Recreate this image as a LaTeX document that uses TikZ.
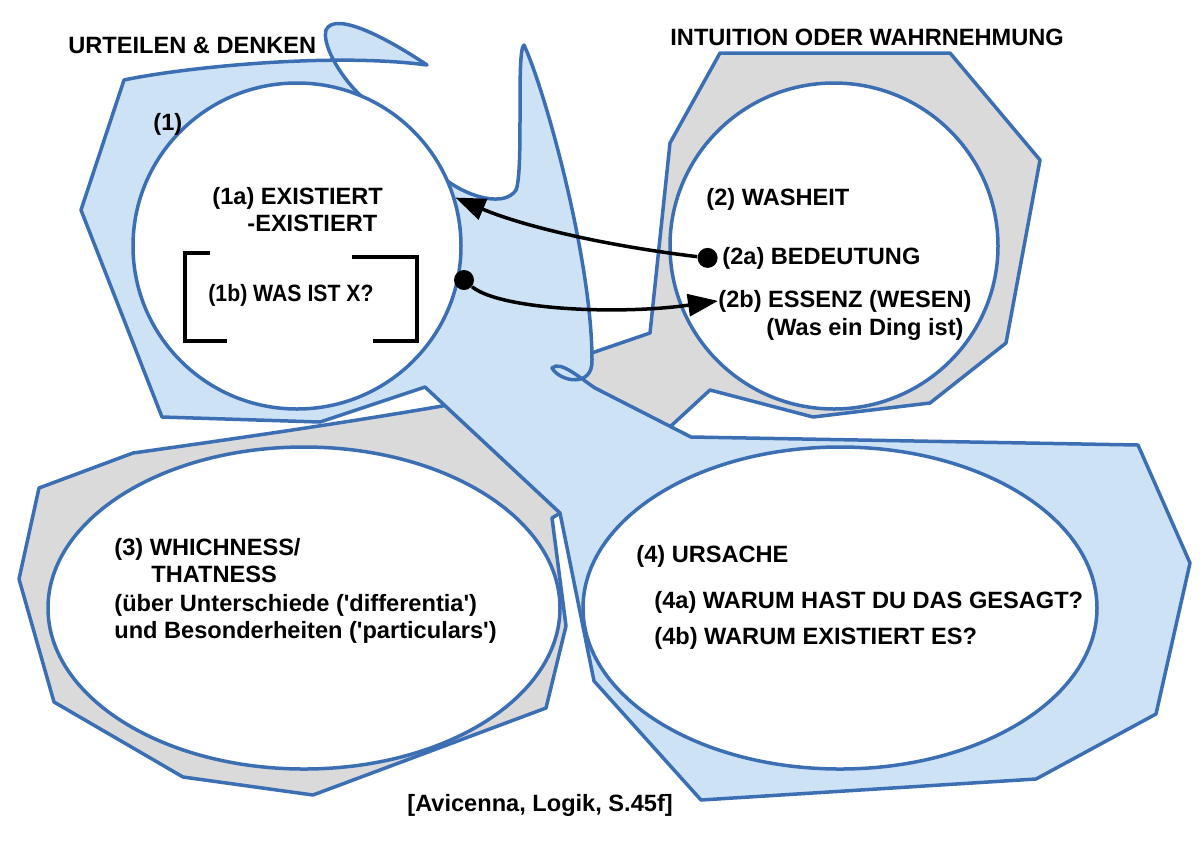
\documentclass[tikz,border=0pt]{standalone}
\usepackage{fontspec}
\setmainfont{Liberation Sans}
\usepackage{xcolor}
\usepackage{graphicx}
\usepackage{tikz}
\usetikzlibrary{
    shapes.geometric,
    positioning,
    arrows.meta
}
\definecolor{blobblue}{RGB}{205,227,245}
\definecolor{lineblue}{RGB}{60,110,180}
\definecolor{blobgrey}{RGB}{218,218,218}
\tikzset{
  blob/.style = {
      draw=lineblue,
      line width=1.75pt,
      line join=round
  },
  circ/.style = {
      ellipse,
      draw=lineblue,
      line width=1.75pt,
      fill=white,
      inner sep=0pt
  },
  txt/.style = {
      anchor=base west,
      inner sep=0pt,
      font=\fontsize{11.8}{14}\selectfont\bfseries
  },
  dot/.style = {
      circle,
      fill=black,
      minimum size=10pt,
      inner sep=0pt
  },
  link/.style = {
      line width=1.75pt,
      -{Triangle[length=15pt, width=11pt]}
  },
  bracket/.style = {
      line width=2pt
  }
}

\begin{document}
\begin{tikzpicture}[x=0.5pt, y=-0.5pt]
        \useasboundingbox (0,0) rectangle (1200,848);
        % Blobs
        \path[blob, fill=blobgrey] (670,143) -- (720,53) -- (950,53) -- (1040,160)
            -- (1006,343) -- (930,403) -- (813,417) -- (710,390) -- (672,425)
            -- (640,445) -- (580,395) -- (580,357) -- (650,333) -- cycle;
        \path[blob, fill=blobgrey] (39,488) -- (133,453)
            .. controls (240,438) and (350,422) .. (448,405) -- (565,510)
            -- (552,518) -- (566,626) -- (546,708) -- (313,795) -- (183,777)
            -- (54,702) -- (19,579) -- cycle;
        \path[blob, fill=blobblue] (124,80)
            .. controls (180,68) and (330,52) .. (427,65)
            .. controls (390,40) and (335,10) .. (326,30)
            .. controls (322,45) and (340,75) .. (357,92)
            -- (446,180)
            .. controls (470,198) and (505,207) .. (516,190)
            .. controls (524,170) and (516,50) .. (524,45)
            .. controls (545,90) and (592,260) .. (592,360)
            .. controls (593,388) and (560,382) .. (552,368)
            .. controls (560,360) and (580,378) .. (595,388)
            -- (691,437) -- (1138,445) -- (1190,563) -- (1156,714) -- (1036,779)
            -- (701,800) -- (594,681) -- (560,513) -- (425,387) -- (320,422)
            -- (162,417) -- (81,210) -- cycle;
        % Circles
        \node[circ, minimum width=164pt, minimum height=163pt] (c1) at (297,246) {};
        \node[circ, minimum width=164pt, minimum height=163pt] (c2) at (834,246) {};
        \node[circ, minimum width=256pt, minimum height=161pt] (c3) at (304,608) {};
        \node[circ, minimum width=257pt, minimum height=161pt] (c4) at (840,608) {};
        % Labels
        \node[txt] (head1) at (68,53) {URTEILEN \& DENKEN};
        \node[txt] (head2) at (670,45) {INTUITION ODER WAHRNEHMUNG};
        \node[txt] (t1) at (153,130) {(1)};
        \node[txt] (t1a) at (212,204) {(1a) EXISTIERT};
        \node[txt] (t1a2) at (247,231) {-EXISTIERT};
        \node[txt] (t1b) at (208,301) {\scalebox{0.9}[1]{(1b) WAS IST X?}};
        \node[txt] (t2) at (706,205) {(2) WASHEIT};
        \node[txt] (t2a) at (722,264) {(2a) BEDEUTUNG};
        \node[txt] (t2b) at (718,307) {(2b) ESSENZ (WESEN)};
        \node[txt] (t2b2) at (766,335) {(Was ein Ding ist)};
        \node[txt] (t3) at (114,555) {(3) WHICHNESS/};
        \node[txt] (t3b) at (151,582) {THATNESS};
        \node[txt] (t3c) at (114,611) {(über Unterschiede (\textquotesingle differentia\textquotesingle)};
        \node[txt] (t3d) at (114,638) {und Besonderheiten (\textquotesingle particulars\textquotesingle)};
        \node[txt] (t4) at (636,562) {(4) URSACHE};
        \node[txt] (t4a) at (654,608) {(4a) WARUM HAST DU DAS GESAGT?};
        \node[txt] (t4b) at (654,644) {(4b) WARUM EXISTIERT ES?};
        \node[txt] (source) at (407,811) {[Avicenna, Logik, S.45f]};
        % Brackets
        \draw[bracket] (210,253) -| (185,341) -- (227,341);
        \draw[bracket] (352,257) -| (417,341) -- (373,341);
        % Edges
        \node[dot] (d1b) at (464,280) {};
        \node[dot, left=2pt of t2a] (d2a) {};
        \draw[link] (d2a) .. controls (600,245) and (520,225) .. (c1.17);
        \draw[link] (d1b) .. controls (500,310) and (620,315) .. (t2b.west);
    \end{tikzpicture}
\end{document}
